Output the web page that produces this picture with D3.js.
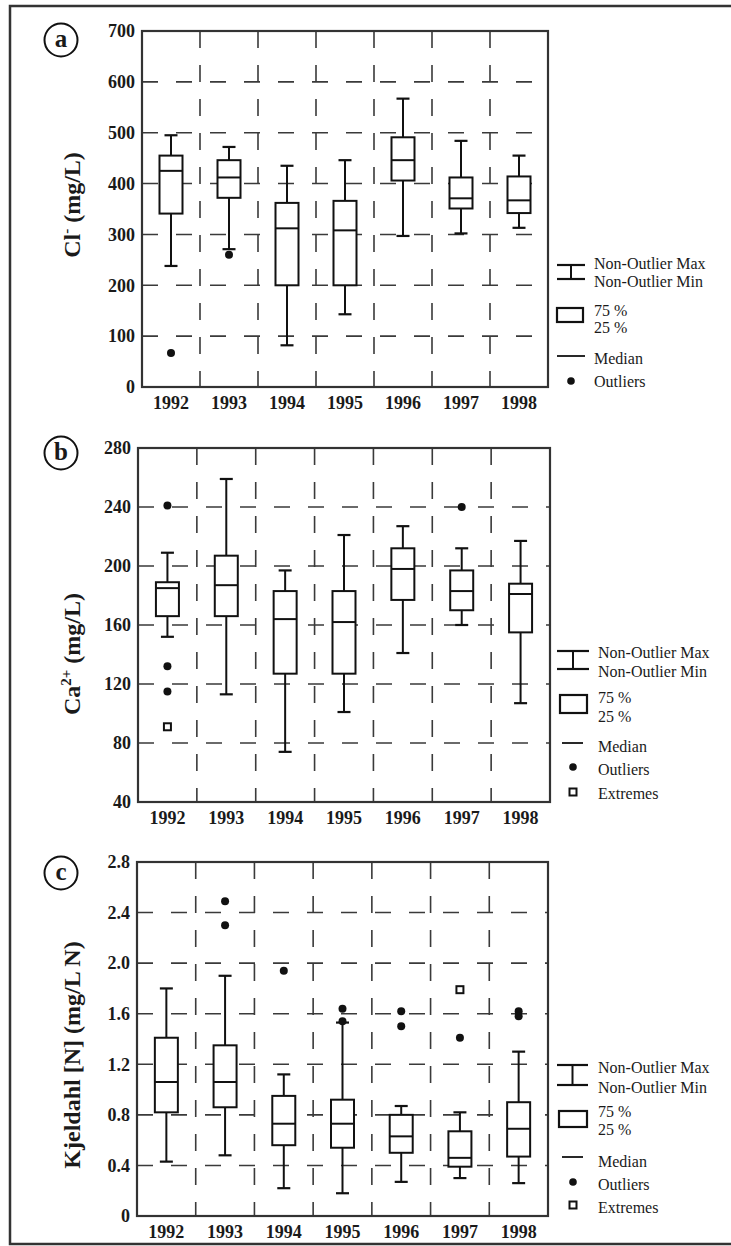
<!DOCTYPE html>
<html>
<head>
<meta charset="utf-8">
<script src="https://cdn.jsdelivr.net/npm/d3@7"></script>
<style>
  body { margin: 0; background: #fff; }
  text { font-family: "Liberation Serif", "Times New Roman", serif; fill: #1a1a1a; }
</style>
</head>
<body>
<script>
// data
var years = ["1992", "1993", "1994", "1995", "1996", "1997", "1998"];

// [non-outlier min, 25%, median, 75%, non-outlier max]
var clStats = [
  [238, 341, 425, 455, 495],
  [271, 372, 412, 446, 472],
  [82, 200, 312, 362, 435],
  [143, 200, 308, 366, 446],
  [297, 406, 446, 491, 567],
  [302, 351, 371, 412, 484],
  [313, 342, 367, 414, 455]
];
var clOutliers = [[67], [260], [], [], [], [], []];
var clExtremes = [[], [], [], [], [], [], []];
var clTicks = [0, 100, 200, 300, 400, 500, 600, 700];

var caStats = [
  [152, 166, 185, 189, 209],
  [113, 166, 187, 207, 259],
  [74, 127, 164, 183, 197],
  [101, 127, 162, 183, 221],
  [141, 177, 198, 212, 227],
  [160, 170, 183, 197, 212],
  [107, 155, 181, 188, 217]
];
var caOutliers = [[241, 132, 115], [], [], [], [], [240], []];
var caExtremes = [[91], [], [], [], [], [], []];
var caTicks = [40, 80, 120, 160, 200, 240, 280];

var tknStats = [
  [0.43, 0.82, 1.06, 1.41, 1.80],
  [0.48, 0.86, 1.06, 1.35, 1.90],
  [0.22, 0.56, 0.73, 0.95, 1.12],
  [0.18, 0.54, 0.73, 0.92, 1.53],
  [0.27, 0.50, 0.63, 0.80, 0.87],
  [0.30, 0.39, 0.46, 0.67, 0.82],
  [0.26, 0.47, 0.69, 0.90, 1.30]
];
var tknOutliers = [[], [2.49, 2.30], [1.94], [1.64, 1.54], [1.62, 1.50], [1.41], [1.62, 1.58]];
var tknExtremes = [[], [], [], [], [], [1.79], []];
var tknTicks = [0, 0.4, 0.8, 1.2, 1.6, 2.0, 2.4, 2.8];

// layout
var W = 731, H = 1246;
var svg = d3.select("body").append("svg")
    .attr("width", W)
    .attr("height", H);

// outer border (runs off the right edge)
svg.append("path")
    .attr("d", "M" + (W + 5) + ",6 L10,6 L10,1244 L" + (W + 5) + ",1244")
    .attr("fill", "none")
    .attr("stroke", "#333")
    .attr("stroke-width", 2.5);

var panels = [
  { id: "a", stats: clStats, outliers: clOutliers, extremes: clExtremes, ticks: clTicks,
    fmt: d3.format("d"), left: 142, right: 548, top: 31, bottom: 387, cy: 40,
    title: ["Cl", "-", " (mg/L)"], titleY: 205,
    legend: { capTop: 265, capBot: 279, capX0: 557, capX1: 585, tx: 594, tMax: 269, tMin: 287,
              box: [557, 308, 26, 14], t75: 316, t25: 333,
              med: [557, 585, 356], tMed: 364, dot: [571, 381], tOut: 387, sq: null } },
  { id: "b", stats: caStats, outliers: caOutliers, extremes: caExtremes, ticks: caTicks,
    fmt: d3.format("d"), left: 138, right: 550, top: 448, bottom: 802, cy: 453,
    title: ["Ca", "2+", " (mg/L)"], titleY: 654,
    legend: { capTop: 651, capBot: 669, capX0: 557, capX1: 589, tx: 598, tMax: 658, tMin: 677,
              box: [560, 695, 27, 18], t75: 703, t25: 722,
              med: [562, 583, 743], tMed: 752, dot: [573, 767], tOut: 775, sq: [573, 792], tExt: 799 } },
  { id: "c", stats: tknStats, outliers: tknOutliers, extremes: tknExtremes, ticks: tknTicks,
    fmt: function(d) { return d === 0 ? "0" : d.toFixed(1); },
    left: 137, right: 548, top: 862, bottom: 1216, cy: 873,
    title: ["Kjeldahl [N] (mg/L N)"], titleY: 1055,
    legend: { capTop: 1065, capBot: 1085, capX0: 557, capX1: 588, tx: 598, tMax: 1073, tMin: 1093,
              box: [559, 1111, 28, 16], t75: 1117, t25: 1135,
              med: [562, 583, 1157], tMed: 1167, dot: [573, 1182], tOut: 1190, sq: [573, 1205], tExt: 1213 } }
];

var gridColor = "#3a3a3a";
var boxColor = "#111";

panels.forEach(function(p) {
  var g = svg.append("g").attr("class", "panel panel-" + p.id);

  var x = d3.scaleBand()
      .domain(years)
      .range([p.left, p.right]);

  var y = d3.scaleLinear()
      .domain(d3.extent(p.ticks))
      .range([p.bottom, p.top]);

  // grid
  g.append("g").attr("class", "grid")
    .selectAll("line.h")
    .data(p.ticks.slice(1, -1))
    .enter().append("line")
      .attr("x1", p.left).attr("x2", p.right)
      .attr("y1", d => y(d)).attr("y2", d => y(d))
      .attr("stroke", gridColor)
      .attr("stroke-width", 1.6)
      .attr("stroke-dasharray", "16,18");

  g.append("g").attr("class", "grid")
    .selectAll("line.v")
    .data(years.slice(1))
    .enter().append("line")
      .attr("x1", d => x(d)).attr("x2", d => x(d))
      .attr("y1", p.top).attr("y2", p.bottom)
      .attr("stroke", gridColor)
      .attr("stroke-width", 1.6)
      .attr("stroke-dasharray", "17,17");

  // axes
  var yAxis = g.append("g")
      .attr("transform", "translate(" + p.left + ",0)")
      .call(d3.axisLeft(y).tickValues(p.ticks).tickSize(0).tickPadding(7).tickFormat(p.fmt));
  yAxis.select(".domain").remove();
  yAxis.selectAll("text")
      .attr("font-size", 18)
      .attr("font-weight", "bold")
      .attr("fill", "#1a1a1a");

  var xAxis = g.append("g")
      .attr("transform", "translate(0," + p.bottom + ")")
      .call(d3.axisBottom(x).tickSize(0).tickPadding(9));
  xAxis.select(".domain").remove();
  xAxis.selectAll("text")
      .attr("font-size", 18)
      .attr("font-weight", "bold")
      .attr("fill", "#1a1a1a");

  // frame
  g.append("rect")
      .attr("x", p.left).attr("y", p.top)
      .attr("width", p.right - p.left).attr("height", p.bottom - p.top)
      .attr("fill", "none")
      .attr("stroke", "#333")
      .attr("stroke-width", 2.2);

  // boxes
  var bw = 23, cw = 13;
  var box = g.append("g").selectAll("g.box")
      .data(p.stats)
    .enter().append("g")
      .attr("transform", (d, i) => "translate(" + (x(years[i]) + x.bandwidth() / 2) + ",0)");

  box.append("line")
      .attr("y1", d => y(d[0])).attr("y2", d => y(d[4]))
      .attr("stroke", boxColor).attr("stroke-width", 2);
  box.append("line")
      .attr("x1", -cw / 2).attr("x2", cw / 2)
      .attr("y1", d => y(d[0])).attr("y2", d => y(d[0]))
      .attr("stroke", boxColor).attr("stroke-width", 2.2);
  box.append("line")
      .attr("x1", -cw / 2).attr("x2", cw / 2)
      .attr("y1", d => y(d[4])).attr("y2", d => y(d[4]))
      .attr("stroke", boxColor).attr("stroke-width", 2.2);
  box.append("rect")
      .attr("x", -bw / 2).attr("width", bw)
      .attr("y", d => y(d[3])).attr("height", d => y(d[1]) - y(d[3]))
      .attr("fill", "#fff")
      .attr("stroke", boxColor).attr("stroke-width", 2);
  box.append("line")
      .attr("x1", -bw / 2).attr("x2", bw / 2)
      .attr("y1", d => y(d[2])).attr("y2", d => y(d[2]))
      .attr("stroke", boxColor).attr("stroke-width", 2);

  // outliers and extremes
  p.outliers.forEach(function(list, i) {
    g.selectAll(null).data(list).enter().append("circle")
        .attr("cx", x(years[i]) + x.bandwidth() / 2)
        .attr("cy", d => y(d))
        .attr("r", 4)
        .attr("fill", boxColor);
  });
  p.extremes.forEach(function(list, i) {
    g.selectAll(null).data(list).enter().append("rect")
        .attr("x", x(years[i]) + x.bandwidth() / 2 - 3.5)
        .attr("y", d => y(d) - 3.5)
        .attr("width", 7).attr("height", 7)
        .attr("fill", "#fff")
        .attr("stroke", boxColor).attr("stroke-width", 2);
  });

  // panel label
  g.append("circle")
      .attr("cx", 61).attr("cy", p.cy).attr("r", 16.5)
      .attr("fill", "#fff").attr("stroke", "#111").attr("stroke-width", 2);
  g.append("text")
      .attr("x", 61).attr("y", p.cy + 7)
      .attr("text-anchor", "middle")
      .attr("font-size", 25).attr("font-weight", "bold")
      .text(p.id);

  // y title
  var t = g.append("text")
      .attr("transform", "translate(80," + p.titleY + ") rotate(-90)")
      .attr("text-anchor", "middle")
      .attr("font-size", 24).attr("font-weight", "bold");
  if (p.title.length === 1) {
    t.text(p.title[0]);
  } else {
    t.append("tspan").text(p.title[0]);
    t.append("tspan").attr("dy", -9).attr("font-size", 15).text(p.title[1]);
    t.append("tspan").attr("dy", 9).text(p.title[2]);
  }

  // legend
  var L = p.legend, lg = g.append("g").attr("class", "legend");
  var cx = (L.capX0 + L.capX1) / 2;
  lg.append("line").attr("x1", L.capX0).attr("x2", L.capX1).attr("y1", L.capTop).attr("y2", L.capTop)
      .attr("stroke", boxColor).attr("stroke-width", 2.2);
  lg.append("line").attr("x1", L.capX0).attr("x2", L.capX1).attr("y1", L.capBot).attr("y2", L.capBot)
      .attr("stroke", boxColor).attr("stroke-width", 2.2);
  lg.append("line").attr("x1", cx).attr("x2", cx).attr("y1", L.capTop).attr("y2", L.capBot)
      .attr("stroke", boxColor).attr("stroke-width", 2);
  lg.append("rect").attr("x", L.box[0]).attr("y", L.box[1]).attr("width", L.box[2]).attr("height", L.box[3])
      .attr("fill", "none").attr("stroke", boxColor).attr("stroke-width", 2.2);
  lg.append("line").attr("x1", L.med[0]).attr("x2", L.med[1]).attr("y1", L.med[2]).attr("y2", L.med[2])
      .attr("stroke", boxColor).attr("stroke-width", 1.8);
  lg.append("circle").attr("cx", L.dot[0]).attr("cy", L.dot[1]).attr("r", 3.8).attr("fill", boxColor);
  if (L.sq) {
    lg.append("rect").attr("x", L.sq[0] - 3.5).attr("y", L.sq[1] - 3.5).attr("width", 7).attr("height", 7)
        .attr("fill", "#fff").attr("stroke", boxColor).attr("stroke-width", 2);
  }

  var labels = [
    ["Non-Outlier Max", L.tMax],
    ["Non-Outlier Min", L.tMin],
    ["75 %", L.t75],
    ["25 %", L.t25],
    ["Median", L.tMed],
    ["Outliers", L.tOut]
  ];
  if (L.sq) labels.push(["Extremes", L.tExt]);
  lg.selectAll("text").data(labels).enter().append("text")
      .attr("x", L.tx).attr("y", d => d[1])
      .attr("font-size", 16)
      .text(d => d[0]);
});
</script>
</body>
</html>
